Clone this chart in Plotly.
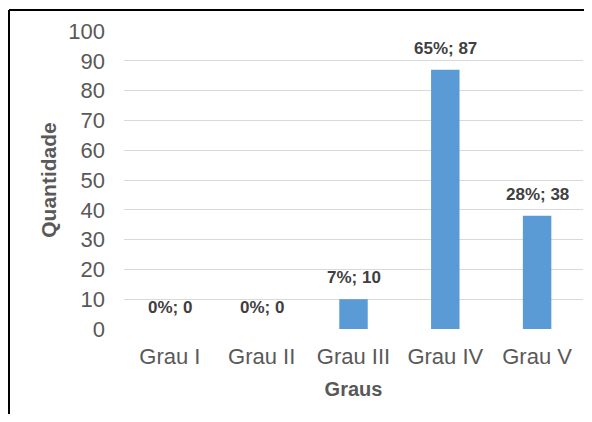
import plotly.graph_objects as go

categorias = ["Grau I", "Grau II", "Grau III", "Grau IV", "Grau V"]
quantidade = [0, 0, 10, 87, 38]
percentual = [0, 0, 7, 65, 28]
y_ticks = [0, 10, 20, 30, 40, 50, 60, 70, 80, 90, 100]

# a página tem 8 px de margem no body, por isso a figura é menor que a janela
W, H = 576, 406
margin = {"l": 116, "r": 1, "t": 23, "b": 85}
plot_w = W - margin["l"] - margin["r"]
plot_h = H - margin["t"] - margin["b"]

fig = go.Figure(
    go.Bar(
        x=categorias,
        y=quantidade,
        marker={"color": "#5B9BD5", "line": {"width": 0}},
        width=0.31,
        hoverinfo="x+y",
    )
)

labels = [
    dict(
        x=c,
        y=q,
        text="<b>{}%; {}</b>".format(p, q),
        showarrow=False,
        yanchor="bottom",
        yshift=10,
        font={"family": "Liberation Sans, Arial", "size": 17, "color": "#404040"},
    )
    for c, q, p in zip(categorias, quantidade, percentual)
]

# moldura da figura (esquerda e topo)
bx = (1 - margin["l"]) / plot_w
by = 1 + (margin["t"] - 2) / plot_h
rx = 1 + margin["r"] / plot_w
shapes = [
    dict(type="line", xref="paper", yref="paper", x0=bx, x1=bx,
         y0=-margin["b"] / plot_h, y1=by, line={"color": "black", "width": 2}),
    dict(type="line", xref="paper", yref="paper", x0=bx, x1=rx, y0=by, y1=by,
         line={"color": "black", "width": 2}),
]

fig.update_layout(
    width=W,
    height=H,
    margin=margin,
    paper_bgcolor="white",
    plot_bgcolor="white",
    showlegend=False,
    bargap=0.69,
    font={"family": "Liberation Sans, Arial", "color": "#595959"},
    annotations=labels,
    shapes=shapes,
    xaxis={
        "title": {"text": "<b>Graus</b>", "font": {"size": 20, "color": "#595959"}, "standoff": 13},
        "tickfont": {"size": 22, "color": "#595959"},
        "showline": False,
        "showgrid": False,
        "zeroline": False,
        "ticks": "",
        "ticklabelstandoff": 12,
    },
    yaxis={
        "title": {"text": "<b>Quantidade</b>", "font": {"size": 21, "color": "#595959"}, "standoff": 5},
        "range": [0, 100],
        "tickvals": y_ticks,
        "tickfont": {"size": 22, "color": "#595959"},
        "gridcolor": "#D9D9D9",
        "gridwidth": 1,
        "showline": False,
        "zeroline": False,
        "ticks": "",
        "ticklabelstandoff": 18,
    },
)

fig.write_html("out.html")
